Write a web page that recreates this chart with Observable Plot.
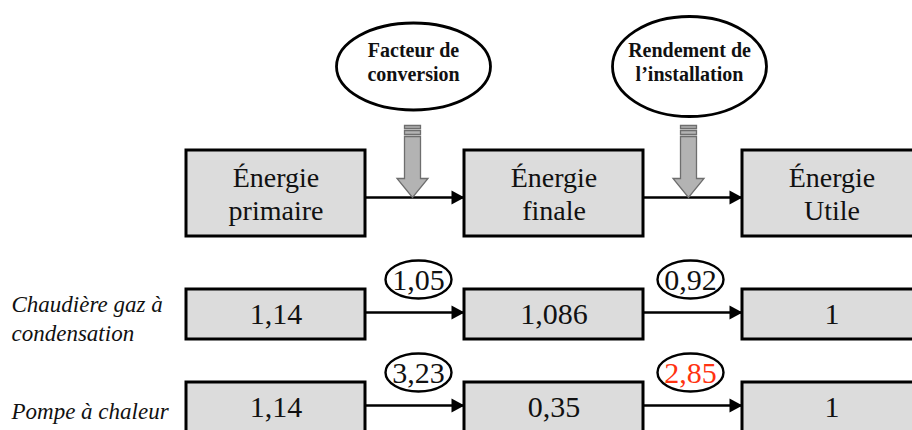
<!DOCTYPE html>
<html>
<head>
<meta charset="utf-8">
<script src="https://cdn.jsdelivr.net/npm/d3@7"></script>
<script src="https://cdn.jsdelivr.net/npm/@observablehq/plot@0.6"></script>
<style>
  html, body { margin: 0; padding: 0; background: #ffffff; }
  #chart { width: 912px; height: 430px; overflow: hidden; }
  #chart svg, #chart svg text { font-family: "Liberation Serif", "DejaVu Serif", serif !important; }
</style>
</head>
<body>
<div id="chart"></div>
<script>
// ---------- DATA ----------
const stages = ["Énergie\nprimaire", "Énergie\nfinale", "Énergie\nUtile"];
const factors = ["Facteur de\nconversion", "Rendement de\nl’installation"];
const systems = ["Chaudière gaz à\ncondensation", "Pompe à chaleur"];
const chaudiereEnergie = [1.14, 1.086, 1];
const chaudiereCoef = [1.05, 0.92];
const pompeEnergie = [1.14, 0.35, 1];
const pompeCoef = [3.23, 2.85];
const highlighted = ["Pompe à chaleur|1"]; // system|coefficient index shown in red

// ---------- LAYOUT ----------
const W = 912, H = 430;
const colLeft = [186, 464, 742];
const boxW = 179;
const rows = [
  {y1: 150, y2: 236, line: 197},   // header row (stages)
  {y1: 289, y2: 339, line: 312},   // Chaudière
  {y1: 382, y2: 432, line: 405}    // Pompe
];
const gapX = [412, 688];           // horizontal centre of each gap between columns
const fmt = v => String(v).replace(".", ",");
const serif = "Liberation Serif";

// ---------- custom symbols (shapes) ----------
function ellipseSymbol(rx, ry) {
  const k = 0.5523;
  return {draw(ctx) {
    ctx.moveTo(rx, 0);
    ctx.bezierCurveTo(rx, ry * k, rx * k, ry, 0, ry);
    ctx.bezierCurveTo(-rx * k, ry, -rx, ry * k, -rx, 0);
    ctx.bezierCurveTo(-rx, -ry * k, -rx * k, -ry, 0, -ry);
    ctx.bezierCurveTo(rx * k, -ry, rx, -ry * k, rx, 0);
    ctx.closePath();
  }};
}
const arrowHead = {draw(ctx) { // tip at origin, pointing right
  ctx.moveTo(0, 0); ctx.lineTo(-13, -7); ctx.lineTo(-13, 7); ctx.closePath();
}};
const grayArrow = {draw(ctx) { // tip at origin, pointing down
  ctx.moveTo(-8, -61); ctx.lineTo(8, -61); ctx.lineTo(8, -19); ctx.lineTo(15.5, -19);
  ctx.lineTo(0, 0); ctx.lineTo(-15.5, -19); ctx.lineTo(-8, -19); ctx.closePath();
  ctx.moveTo(-8, -72); ctx.lineTo(8, -72); ctx.lineTo(8, -69); ctx.lineTo(-8, -69); ctx.closePath();
  ctx.moveTo(-8, -67); ctx.lineTo(8, -67); ctx.lineTo(8, -63); ctx.lineTo(-8, -63); ctx.closePath();
}};

// ---------- build tables from the data ----------
const boxes = [];
const boxLine1 = [], boxLine2 = [];
stages.forEach((s, i) => {
  boxes.push({x1: colLeft[i], x2: colLeft[i] + boxW, y1: rows[0].y1, y2: rows[0].y2});
  const [a, b] = s.split("\n");
  boxLine1.push({x: colLeft[i] + boxW / 2, y: 178, text: a});
  boxLine2.push({x: colLeft[i] + boxW / 2, y: 211, text: b});
});
const sysRows = [
  {name: systems[0], energie: chaudiereEnergie, coef: chaudiereCoef, row: rows[1]},
  {name: systems[1], energie: pompeEnergie, coef: pompeCoef, row: rows[2]}
];
const valueTexts = [], coefs = [], labels = [];
sysRows.forEach(sr => {
  sr.energie.forEach((v, i) => {
    boxes.push({x1: colLeft[i], x2: colLeft[i] + boxW, y1: sr.row.y1, y2: sr.row.y2});
    valueTexts.push({x: colLeft[i] + boxW / 2, y: (sr.row.y1 + sr.row.y2) / 2, text: fmt(v)});
  });
  sr.coef.forEach((c, i) => {
    coefs.push({x: gapX[i] + 6 - i * 4, y: sr.row.y1 - 10, text: fmt(c),
                red: highlighted.includes(sr.name + "|" + i)});
  });
  labels.push({x: 11, y: (sr.row.y1 + sr.row.y2) / 2 + 3, text: sr.name});
});
const links = [];
rows.forEach(r => {
  for (let i = 0; i < 2; i++) links.push({x1: colLeft[i] + boxW, x2: colLeft[i + 1], y: r.line});
});
const factorEll = factors.map((f, i) => ({x: gapX[i] + 1, y: 66, text: f}));

const plot = Plot.plot({
  width: W, height: H, margin: 0,
  x: {domain: [0, W], range: [0, W], axis: null},
  y: {domain: [0, H], range: [0, H], axis: null},
  style: {background: "#ffffff", overflow: "hidden"},
  marks: [
    // connecting lines
    Plot.link(links, {x1: "x1", x2: "x2", y1: "y", y2: "y", stroke: "#000", strokeWidth: 2.6}),
    Plot.dot(links, {x: "x2", y: "y", symbol: arrowHead, fill: "#000", stroke: "none"}),
    // boxes
    Plot.rect(boxes, {x1: "x1", x2: "x2", y1: "y1", y2: "y2", fill: "#dcdcdc", stroke: "#000", strokeWidth: 3}),
    Plot.text(boxLine1, {x: "x", y: "y", text: "text", fontFamily: serif, fontSize: 28, fill: "#111"}),
    Plot.text(boxLine2, {x: "x", y: "y", text: "text", fontFamily: serif, fontSize: 28, fill: "#111"}),
    Plot.text(valueTexts, {x: "x", y: "y", text: "text", fontFamily: serif, fontSize: 30, fill: "#111"}),
    // gray down arrows
    Plot.dot(gapX.map(x => ({x, y: rows[0].line})), {x: "x", y: "y", symbol: grayArrow, fill: "#b3b3b3", stroke: "#6e6e6e", strokeWidth: 1.3}),
    // top factor ellipses
    Plot.dot([factorEll[0]], {x: "x", y: "y", symbol: ellipseSymbol(77, 43.5), fill: "#fff", stroke: "#000", strokeWidth: 2.8}),
    Plot.dot([factorEll[1]], {x: "x", y: "y", symbol: ellipseSymbol(77, 50), fill: "#fff", stroke: "#000", strokeWidth: 2.8}),
    Plot.text(factorEll, {x: "x", y: "y", text: "text", fontFamily: serif, fontSize: 20, fontWeight: "bold", lineHeight: 1.18, dy: -5, fill: "#111"}),
    // coefficient ellipses
    Plot.dot(coefs, {x: "x", y: "y", symbol: ellipseSymbol(33, 19), fill: "#fff", stroke: "#000", strokeWidth: 2.4}),
    Plot.text(coefs, {x: "x", y: "y", text: "text", fontFamily: serif, fontSize: 30, dy: 1, fill: d => d.red ? "#ff3311" : "#111"}),
    // system labels
    Plot.text(labels, {x: "x", y: "y", text: "text", textAnchor: "start", fontFamily: serif, fontSize: 23, fontStyle: "italic", lineHeight: 1.22, fill: "#111"})
  ]
});
document.getElementById("chart").appendChild(plot);
</script>
</body>
</html>
